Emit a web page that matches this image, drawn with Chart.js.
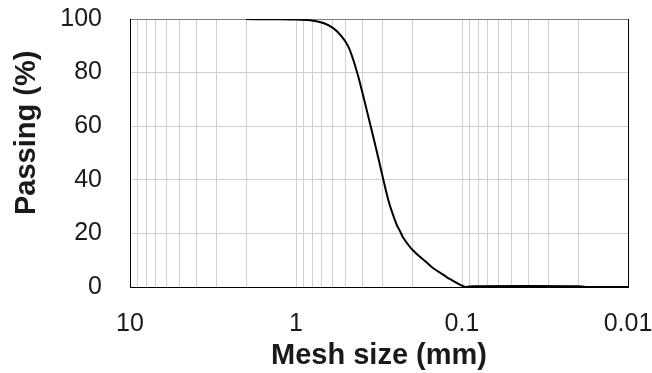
<!DOCTYPE html>
<html>
<head>
<meta charset="utf-8">
<script src="https://cdn.jsdelivr.net/npm/chart.js@4"></script>
<style>
  body { margin: 0; background: #ffffff; }
  #wrap { width: 652px; height: 373px; }
</style>
</head>
<body>
<div id="wrap"><canvas id="chart" width="652" height="373"></canvas></div>
<script>
// grading curve
const meshSize = [2.0, 1.5, 1.0, 0.82, 0.685, 0.596, 0.531, 0.484, 0.452, 0.422, 0.40, 0.36, 0.32, 0.278, 0.248, 0.236, 0.226, 0.197, 0.163, 0.149, 0.13, 0.118, 0.096, 0.09, 0.085, 0.02, 0.018, 0.01]
const passing = [100, 99.9, 99.8, 99.5, 98.5, 96.6, 93.5, 89.7, 84.8, 78.6, 73.0, 61.6, 48.4, 32.5, 23.4, 20.8, 18.4, 13.6, 9.1, 7.0, 4.6, 2.9, 0, 0.2, 0.3, 0.3, 0, 0]

// log grid lines and labelled decades
const xGridValues = [10, 9, 8, 7, 6, 5, 4, 3, 2,
                     1, 0.9, 0.8, 0.7, 0.6, 0.5, 0.4, 0.3, 0.2,
                     0.1, 0.09, 0.08, 0.07, 0.06, 0.05, 0.04, 0.03, 0.02, 0.01]
const xMajor = [10, 1, 0.1, 0.01]
const xTickLabels = ['10', '1', '0.1', '0.01']
const yTicks = [0, 20, 40, 60, 80, 100]

const gridGrey = '#d0d0d0'
const textColor = '#1a1a1a'

let points = []
meshSize.forEach((m, i) => points.push({x: m, y: passing[i]}))

new Chart(document.getElementById('chart'), {
    type: 'line',
    data: {
        datasets: [{
            data: points,
            borderColor: '#000000',
            borderWidth: 2,
            pointRadius: 0,
            tension: 0.3,
            fill: false
        }]
    },
    options: {
        responsive: false,
        animation: false,
        layout: {
            padding: {top: 19, right: 24, left: 0, bottom: 0}
        },
        plugins: {
            legend: {display: false},
            tooltip: {enabled: false}
        },
        scales: {
            x: {
                type: 'logarithmic',
                reverse: true,
                min: 0.01,
                max: 10,
                afterBuildTicks: (scale) => {
                    scale.ticks = xGridValues.map(v => ({value: v}))
                },
                afterFit: (scale) => {
                    scale.height = 86
                    scale.paddingLeft = 0
                    scale.paddingRight = 0
                },
                grid: {
                    color: (ctx) => ctx.tick && ctx.tick.value === 0.01 ? '#000000' : gridGrey,
                    drawTicks: false
                },
                border: {color: '#000000'},
                ticks: {
                    autoSkip: false,
                    maxRotation: 0,
                    padding: 22,
                    color: textColor,
                    font: {family: 'Liberation Sans', size: 25},
                    callback: (value) => {
                        const i = xMajor.indexOf(value)
                        return i >= 0 ? xTickLabels[i] : ''
                    }
                },
                title: {
                    display: true,
                    text: 'Mesh size (mm)',
                    color: textColor,
                    font: {family: 'Liberation Sans', size: 29, weight: 'bold'},
                    padding: {top: 0, bottom: 0}
                }
            },
            y: {
                min: 0,
                max: 100,
                afterBuildTicks: (scale) => {
                    scale.ticks = yTicks.map(v => ({value: v}))
                },
                afterFit: (scale) => {
                    scale.width = 130
                    scale.paddingTop = 0
                    scale.paddingBottom = 0
                },
                grid: {
                    color: (ctx) => ctx.tick && ctx.tick.value === 100 ? '#808080' : gridGrey,
                    drawTicks: false
                },
                border: {color: '#000000'},
                ticks: {
                    padding: 28,
                    color: textColor,
                    font: {family: 'Liberation Sans', size: 25}
                },
                title: {
                    display: true,
                    text: '     Passing (%)',
                    color: textColor,
                    font: {family: 'Liberation Sans', size: 29, weight: 'bold'},
                    padding: {top: 10, bottom: 0}
                }
            }
        }
    }
})
</script>
</body>
</html>
